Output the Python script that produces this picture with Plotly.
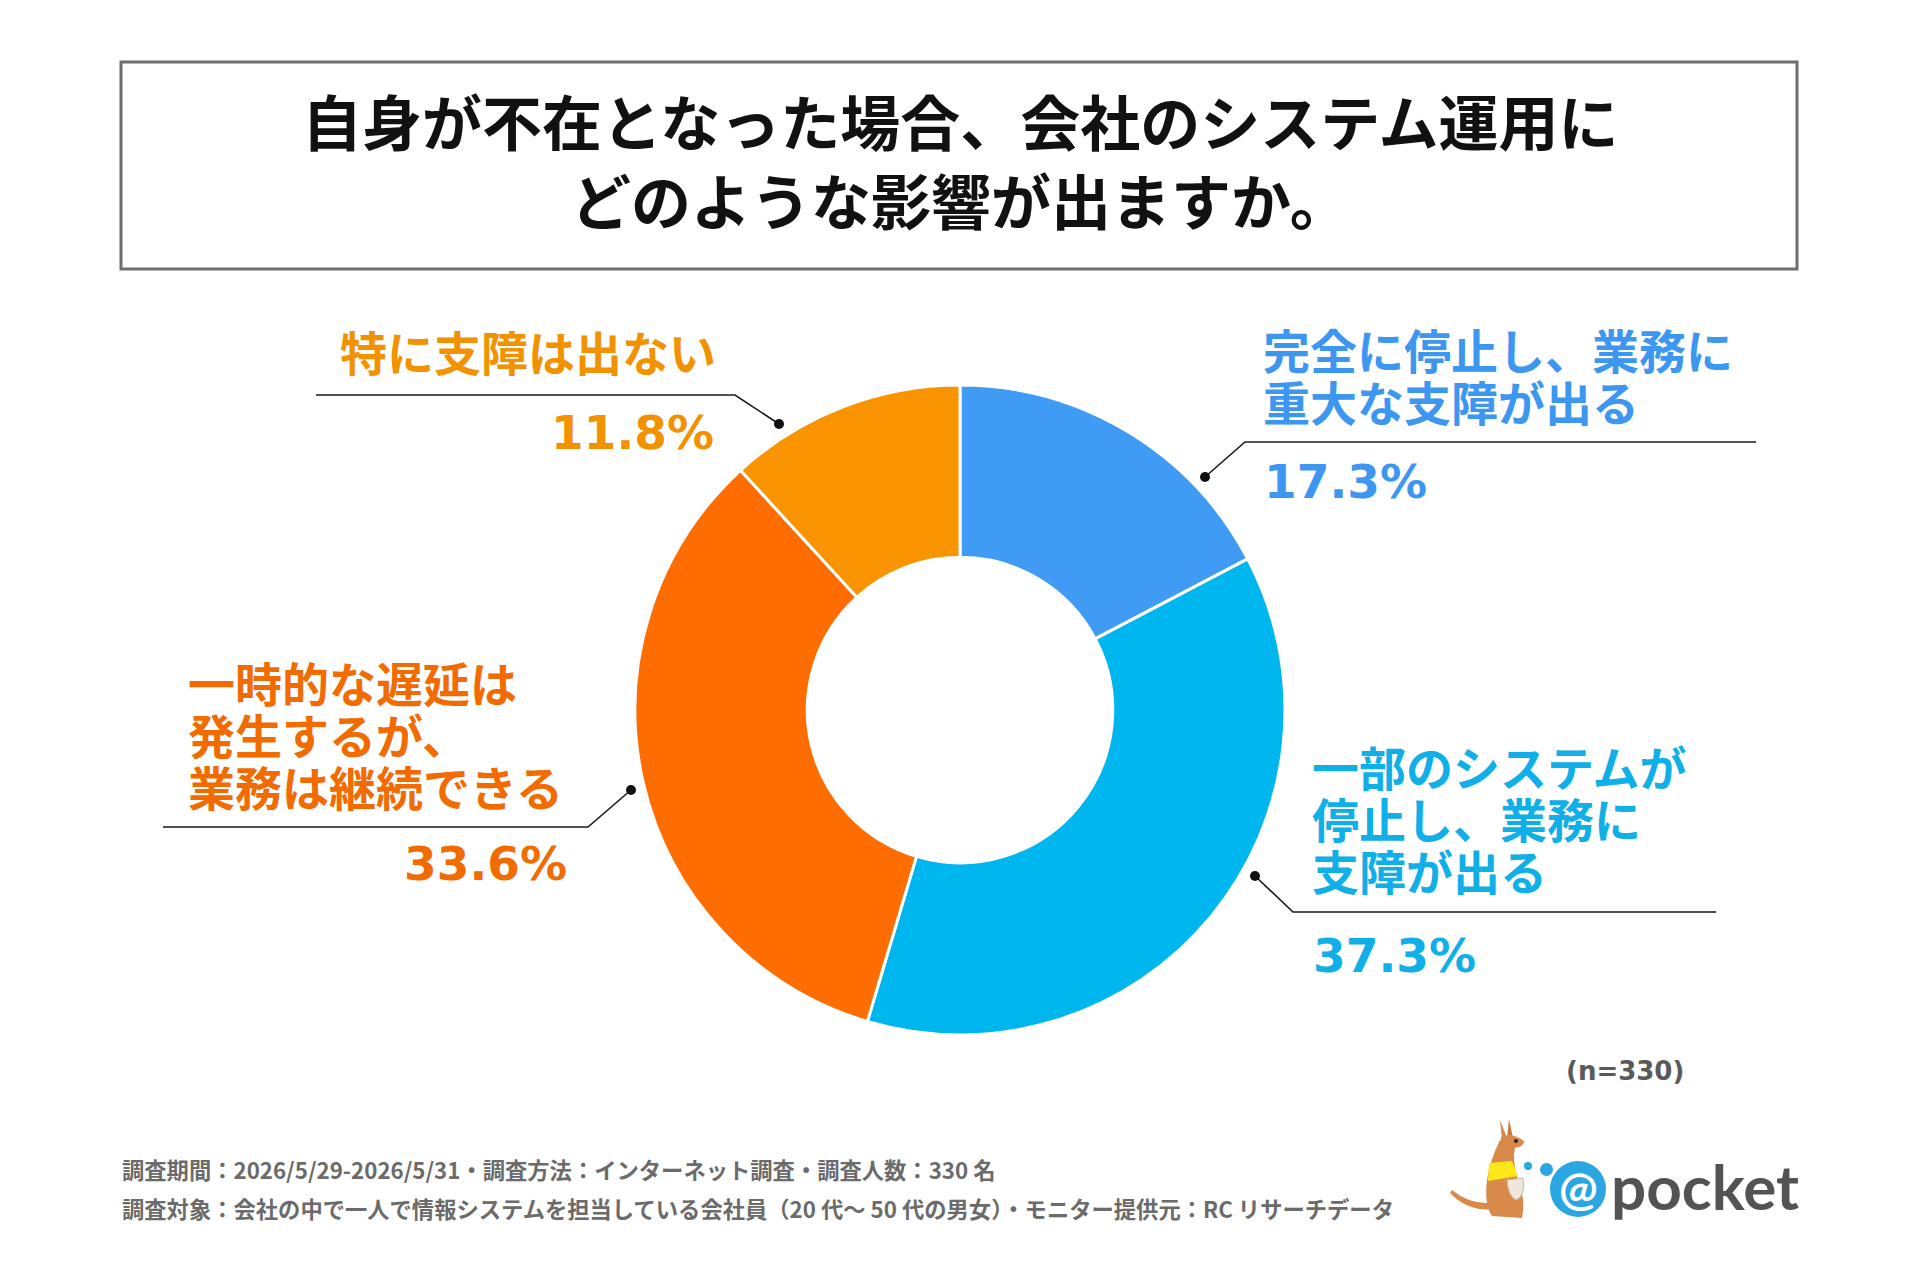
import plotly.graph_objects as go

# ---------------- data ----------------
title_lines = ["自身が不在となった場合、会社のシステム運用に", "どのような影響が出ますか。"]
categories = [
    "完全に停止し、業務に重大な支障が出る",
    "一部のシステムが停止し、業務に支障が出る",
    "一時的な遅延は発生するが、業務は継続できる",
    "特に支障は出ない",
]
label_lines = [
    ["完全に停止し、業務に", "重大な支障が出る"],
    ["一部のシステムが", "停止し、業務に", "支障が出る"],
    ["一時的な遅延は", "発生するが、", "業務は継続できる"],
    ["特に支障は出ない"],
]
values = [17.3, 37.3, 33.6, 11.8]
slice_colors = ["#409BF5", "#00B6EE", "#FF6C00", "#F99300"]
text_colors = ["#3D96F0", "#10AFE8", "#F26B00", "#F39200"]
n_note = "(n=330)"
footer_lines = [
    "調査期間：2026/5/29-2026/5/31・調査方法：インターネット調査・調査人数：330 名",
    "調査対象：会社の中で一人で情報システムを担当している会社員（20 代～ 50 代の男女）・モニター提供元：RC リサーチデータ",
]

# ---------------- layout settings (page pixels) ----------------
W, H = 1920, 1280
OFF = 8            # page body margin: shift drawing so page pixels line up
CX, CY, R = 960, 710, 325
HOLE = 0.47
JP = "Noto Sans CJK JP"
LBL_FONT = "Liberation Sans, Noto Sans CJK JP"
NUM = "DejaVu Sans"
LBL_SIZE = 47      # glyph size of label text
LBL_BASE = 40      # base size -> line spacing 1.3 * 40 = 52 px

# label placement: text x, anchor, block centre y, leader: dot, elbow, line end, pct x, pct y
label_layout = [
    dict(x=1261, anchor="left", cy=378, dot=(1205, 477), elbow=(1245, 442), end=1756, px=1262, pct_y=481),
    dict(x=1310, anchor="left", cy=821, dot=(1255, 876), elbow=(1293, 912), end=1716, px=1311, pct_y=955),
    dict(x=186, anchor="left", cy=737, dot=(631, 790), elbow=(588, 827), end=163, px=569, pct_y=863),
    dict(x=718, anchor="right", cy=354, dot=(779, 424), elbow=(735, 395), end=316, px=716, pct_y=432),
]

fig = go.Figure()

fig.add_trace(go.Pie(
    labels=categories, values=values, sort=False, direction="clockwise", rotation=0,
    hole=HOLE, textinfo="none", hoverinfo="label+percent",
    marker=dict(colors=slice_colors, line=dict(color="white", width=3)),
    domain=dict(x=[(CX - R - OFF) / W, (CX + R - OFF) / W],
                y=[1 - (CY + R - OFF) / H, 1 - (CY - R - OFF) / H]),
    showlegend=False,
))

shapes = []
annotations = []

# title box
shapes.append(dict(type="rect", xref="x", yref="y", x0=121, y0=62, x1=1797, y1=269,
                   line=dict(color="#6E6E6E", width=3), fillcolor="white", layer="below"))
for ty, t in zip([119, 198], title_lines):
    annotations.append(dict(xref="x", yref="y", x=960, y=ty, text=f"<b>{t}</b>", showarrow=False,
                            xanchor="center", yanchor="middle",
                            font=dict(family=JP, size=60, color="#111111")))

# labels + leaders
for lines, val, col, lay in zip(label_lines, values, text_colors, label_layout):
    block = "<br>".join(f"<span style='font-size:{LBL_SIZE}px'><b>{t}</b></span>" for t in lines)
    annotations.append(dict(xref="x", yref="y", x=lay["x"], y=lay["cy"], text=block, showarrow=False,
                            xanchor=lay["anchor"], yanchor="middle", align=lay["anchor"],
                            font=dict(family=LBL_FONT, size=LBL_BASE, color=col)))
    pa = "left" if lay["px"] <= lay["x"] + 2 and lay["anchor"] == "left" else "right"
    annotations.append(dict(xref="x", yref="y", x=lay["px"], y=lay["pct_y"], text=f"<b>{val:.1f}%</b>",
                            showarrow=False, xanchor=pa, yanchor="middle",
                            font=dict(family=NUM, size=47, color=col)))
    dx, dy = lay["dot"]
    ex, ey = lay["elbow"]
    shapes.append(dict(type="path", xref="x", yref="y",
                       path=f"M {dx},{dy} L {ex},{ey} L {lay['end']},{ey}",
                       line=dict(color="#1A1A1A", width=1.6)))
    shapes.append(dict(type="circle", xref="x", yref="y", x0=dx - 5, y0=dy - 5, x1=dx + 5, y1=dy + 5,
                       fillcolor="#111111", line=dict(width=0)))

# n note
annotations.append(dict(xref="x", yref="y", x=1686, y=1071, text=f"<b>{n_note}</b>", showarrow=False,
                        xanchor="right", yanchor="middle", font=dict(family=NUM, size=26, color="#5A5A5A")))

# footer
for fy, t in zip([1169, 1208], footer_lines):
    annotations.append(dict(xref="x", yref="y", x=120, y=fy, text=f"<b>{t}</b>", showarrow=False,
                            xanchor="left", yanchor="middle", font=dict(family=JP, size=22.3, color="#6B6B6B")))

# ---------------- logo ----------------
brown = "#D98A4A"
shapes.append(dict(type="path", xref="x", yref="y",
                   path="M 1452,1190 Q 1470,1205 1494,1203 L 1494,1209 Q 1468,1212 1450,1193 Z",
                   fillcolor=brown, line=dict(width=0)))
shapes.append(dict(type="path", xref="x", yref="y",
                   path="M 1500,1140 Q 1490,1160 1487,1180 Q 1484,1205 1492,1216 L 1522,1218 "
                        "Q 1526,1200 1518,1180 Q 1512,1160 1515,1148 Z",
                   fillcolor=brown, line=dict(width=0)))
shapes.append(dict(type="path", xref="x", yref="y",
                   path="M 1502,1140 L 1500,1120 L 1507,1138 Z", fillcolor=brown, line=dict(width=0)))
shapes.append(dict(type="path", xref="x", yref="y",
                   path="M 1507,1139 L 1509,1119 L 1513,1138 Z", fillcolor="#C77A3E", line=dict(width=0)))
shapes.append(dict(type="path", xref="x", yref="y",
                   path="M 1501,1137 Q 1512,1132 1524,1141 Q 1524,1147 1514,1148 Q 1503,1150 1501,1143 Z",
                   fillcolor=brown, line=dict(width=0)))
shapes.append(dict(type="circle", xref="x", yref="y", x0=1514, y0=1139, x1=1518, y1=1143,
                   fillcolor="#222222", line=dict(width=0)))
shapes.append(dict(type="path", xref="x", yref="y",
                   path="M 1489,1163 L 1512,1161 L 1518,1176 L 1488,1181 Z",
                   fillcolor="#FFE81A", line=dict(width=0)))
shapes.append(dict(type="path", xref="x", yref="y",
                   path="M 1507,1180 L 1523,1178 Q 1526,1196 1516,1200 Q 1508,1196 1507,1180 Z",
                   fillcolor="#EFE7DC", line=dict(color="#C9B8A5", width=1)))
shapes.append(dict(type="circle", xref="x", yref="y", x0=1524, y0=1162, x1=1532, y1=1170,
                   fillcolor="#2AA6E2", line=dict(width=0)))
shapes.append(dict(type="circle", xref="x", yref="y", x0=1540, y0=1163, x1=1553, y1=1176,
                   fillcolor="#2AA6E2", line=dict(width=0)))
shapes.append(dict(type="circle", xref="x", yref="y", x0=1550, y0=1161, x1=1606, y1=1217,
                   fillcolor="#2AA6E2", line=dict(width=0)))
annotations.append(dict(xref="x", yref="y", x=1578, y=1187, text="<b>@</b>", showarrow=False,
                        xanchor="center", yanchor="middle", font=dict(family="Lato", size=46, color="white")))
annotations.append(dict(xref="x", yref="y", x=1609, y=1186, text="<b>pocket</b>", showarrow=False,
                        xanchor="left", yanchor="middle", font=dict(family="Lato", size=62, color="#535353")))

fig.update_layout(
    width=W, height=H, margin=dict(l=0, r=0, t=0, b=0),
    paper_bgcolor="white", plot_bgcolor="rgba(0,0,0,0)",
    xaxis=dict(range=[OFF, W + OFF], visible=False, fixedrange=True, domain=[0, 1]),
    yaxis=dict(range=[H + OFF, OFF], visible=False, fixedrange=True, domain=[0, 1]),
    shapes=shapes, annotations=annotations, showlegend=False,
)

fig.write_html("out.html")
